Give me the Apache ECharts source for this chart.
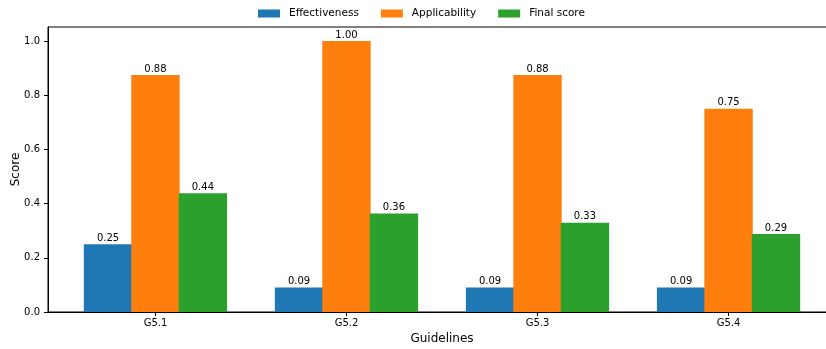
<!DOCTYPE html>
<html>
<head>
<meta charset="utf-8">
<script src="https://cdn.jsdelivr.net/npm/echarts@6/dist/echarts.min.js"></script>
<style>
  html, body { margin: 0; padding: 0; background: #fff; }
  #chart { width: 826px; height: 349px; }
</style>
</head>
<body>
<div id="chart"></div>
<script>
// Guideline scores
const categories = ['G5.1', 'G5.2', 'G5.3', 'G5.4'];
const effectiveness = [0.25, 0.09, 0.09, 0.09];
const applicability = [0.875, 1.00, 0.875, 0.75];
const finalScore = [0.438, 0.364, 0.329, 0.288];

const FONT = 'DejaVu Sans';
const positions = categories.map((_, i) => i);

function toPoints(values) {
  return values.map((v, i) => [positions[i], v]);
}

// Adjacent bars overlap by about one pixel so no anti-aliased seam shows between them
function barSeries(name, values, color) {
  return {
    name: name,
    type: 'bar',
    data: toPoints(values),
    barGap: '-2%',
    barCategoryGap: '25%',
    itemStyle: { color: color },
    label: {
      show: true,
      position: 'top',
      distance: 1,
      color: '#000',
      fontFamily: FONT,
      fontSize: 10,
      formatter: p => p.value[1].toFixed(2)
    }
  };
}

const chart = echarts.init(document.getElementById('chart'), null, { renderer: 'canvas' });

chart.setOption({
  animation: false,
  backgroundColor: '#fff',
  textStyle: { fontFamily: FONT },
  legend: {
    top: 8,
    left: 258,
    padding: 0,
    icon: 'rect',
    itemWidth: 22,
    itemHeight: 8,
    itemGap: 22,
    textStyle: { fontFamily: FONT, fontSize: 10.5, color: '#000', padding: [0, 0, 0, 4] },
    data: ['Effectiveness', 'Applicability', 'Final score']
  },
  grid: {
    left: 48,
    top: 27,
    bottom: 37,
    right: -10,
    outerBoundsMode: 'none',
    containLabel: false,
    show: true,
    borderColor: '#000',
    borderWidth: 1
  },
  xAxis: {
    type: 'value',
    min: -0.5625,
    max: 3.5625,
    name: 'Guidelines',
    nameLocation: 'middle',
    nameGap: 21,
    nameMoveOverlap: false,
    nameTextStyle: { fontFamily: FONT, fontSize: 12, color: '#000' },
    axisLine: { show: true, onZero: false, lineStyle: { color: '#000', width: 1 } },
    axisTick: { show: true, length: 4, customValues: positions, lineStyle: { color: '#000' } },
    axisLabel: {
      customValues: positions,
      margin: 6,
      fontFamily: FONT,
      fontSize: 10,
      color: '#000',
      formatter: v => categories[Math.round(v)]
    },
    splitLine: { show: false }
  },
  yAxis: {
    type: 'value',
    min: 0,
    max: 1.052,
    interval: 0.2,
    name: 'Score',
    nameLocation: 'middle',
    nameGap: 26,
    nameMoveOverlap: false,
    nameTextStyle: { fontFamily: FONT, fontSize: 12, color: '#000' },
    axisLine: { show: true, onZero: false, lineStyle: { color: '#000', width: 1 } },
    axisTick: { show: true, length: 4, lineStyle: { color: '#000' } },
    axisLabel: {
      showMaxLabel: false,
      margin: 8,
      fontFamily: FONT,
      fontSize: 10,
      color: '#000',
      formatter: v => v.toFixed(1)
    },
    splitLine: { show: false }
  },
  series: [
    barSeries('Effectiveness', effectiveness, '#1f77b4'),
    barSeries('Applicability', applicability, '#ff7f0e'),
    barSeries('Final score', finalScore, '#2ca02c')
  ]
});
</script>
</body>
</html>
